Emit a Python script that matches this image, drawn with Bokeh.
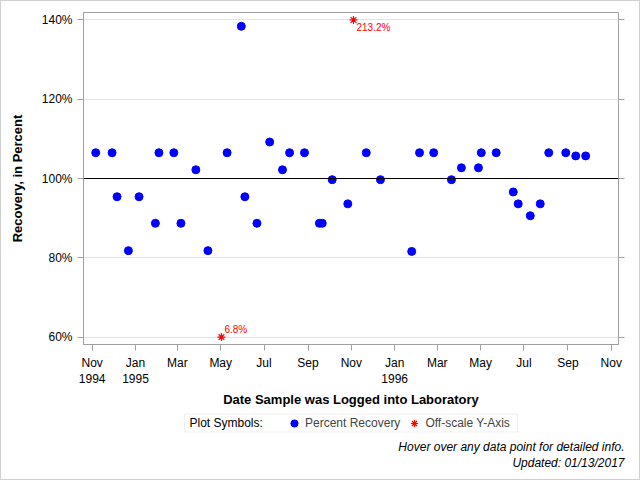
import numpy as np
import pandas as pd
from bokeh.plotting import figure
from bokeh.layouts import column, row
from bokeh.core.properties import value
from bokeh.models import (Range1d, ColumnDataSource, Span, LinearAxis, FixedTicker,
                          PrintfTickFormatter, CustomJSTickFormatter, Legend, LegendItem,
                          Label, LabelSet, BoxAnnotation)
from bokeh.embed import file_html
from bokeh.resources import INLINE

# ---------------- data ----------------
sample_dates = [
    "1994-11-06", "1994-11-29", "1994-12-06", "1994-12-22", "1995-01-06",
    "1995-01-29", "1995-02-03", "1995-02-24", "1995-03-06", "1995-03-27",
    "1995-04-13", "1995-05-10", "1995-05-30", "1995-06-04", "1995-06-21",
    "1995-07-09", "1995-07-27", "1995-08-06", "1995-08-27", "1995-09-17",
    "1995-09-21", "1995-10-05", "1995-10-27", "1995-11-22", "1995-12-12",
    "1996-01-25", "1996-02-05", "1996-02-25", "1996-03-21", "1996-04-04",
    "1996-04-28", "1996-05-02", "1996-05-23", "1996-06-16", "1996-06-23",
    "1996-07-10", "1996-07-24", "1996-08-05", "1996-08-29", "1996-09-12",
    "1996-09-26",
]
recovery_pct = [
    106.5, 106.5, 95.4, 81.8, 95.4,
    88.7, 106.5, 106.5, 88.7, 102.2,
    81.8, 106.5, 138.4, 95.4, 88.7,
    109.2, 102.2, 106.5, 106.5, 88.7,
    88.7, 99.7, 93.6, 106.5, 99.7,
    81.6, 106.5, 106.5, 99.7, 102.7,
    102.7, 106.5, 106.5, 96.6, 93.6,
    90.6, 93.6, 106.5, 106.5, 105.7,
    105.7,
]
offscale_dates = ["1995-05-02", "1995-11-04"]
offscale_pct = [6.8, 213.2]

x_tick_dates = ["1994-11-01", "1995-01-01", "1995-03-01", "1995-05-01", "1995-07-01",
                "1995-09-01", "1995-11-01", "1996-01-01", "1996-03-01", "1996-05-01",
                "1996-07-01", "1996-09-01", "1996-11-01"]
x_tick_labels = ["Nov\n1994", "Jan\n1995", "Mar", "May", "Jul", "Sep", "Nov",
                 "Jan\n1996", "Mar", "May", "Jul", "Sep", "Nov"]
y_ticks = [60, 80, 100, 120, 140]
y_display_min, y_display_max = 60, 140
reference_pct = 100
legend_title = "Plot Symbols:"
series_names = ["Percent Recovery", "Off-scale Y-Axis"]
footnotes = ["Hover over any data point for detailed info.", "Updated: 01/13/2017"]

# ---------------- styling ----------------
FONT = "Liberation Sans"
GRAY = "#a0a0a0"

src = ColumnDataSource(dict(date=pd.to_datetime(sample_dates), pct=recovery_pct))
off_plot = np.clip(np.array(offscale_pct), y_display_min, y_display_max)
off_src = ColumnDataSource(dict(
    date=pd.to_datetime(offscale_dates),
    y=off_plot,
    txt=[f"{v}%" for v in offscale_pct],
    dy=[-8 if v >= y_display_max else 8 for v in offscale_pct],
))

tick_ms = [float(t) for t in
           (pd.to_datetime(x_tick_dates) - pd.Timestamp("1970-01-01")) // pd.Timedelta(milliseconds=1)]

p = figure(width=640, height=410, output_backend="svg", toolbar_location=None,
           x_axis_type="datetime",
           x_range=Range1d(pd.Timestamp("1994-10-19 18:00"), pd.Timestamp("1996-11-11 06:00")),
           y_range=Range1d(58.116, 141.886),
           min_border_left=83, min_border_right=22, min_border_top=12, min_border_bottom=65)
p.outline_line_color = GRAY
p.background_fill_color = None
p.border_fill_color = None

p.xgrid.visible = False
p.ygrid.ticker = FixedTicker(ticks=y_ticks)
p.ygrid.grid_line_color = "#e2e2e2"

# x axis
xa = p.xaxis[0]
xa.ticker = FixedTicker(ticks=tick_ms)
xa.formatter = CustomJSTickFormatter(args=dict(tick_vals=tick_ms, tick_labels=x_tick_labels),
                                     code="const i = tick_vals.indexOf(tick); return i >= 0 ? tick_labels[i] : '';")
xa.axis_label = "Date Sample was Logged into Laboratory"
# y axis
ya = p.yaxis[0]
ya.ticker = FixedTicker(ticks=y_ticks)
ya.formatter = PrintfTickFormatter(format="%d%%")
ya.axis_label = "Recovery, in Percent"

for ax in (xa, ya):
    ax.axis_line_color = GRAY
    ax.major_tick_line_color = GRAY
    ax.major_tick_out = 6
    ax.major_tick_in = 0
    ax.minor_tick_line_color = None
    ax.major_label_text_font = FONT
    ax.major_label_text_font_size = "12px"
    ax.major_label_text_color = "black"
    ax.major_label_standoff = 5
    ax.axis_label_text_font = FONT
    ax.axis_label_text_font_size = "13px"
    ax.axis_label_text_font_style = "bold"
    ax.axis_label_text_color = "black"
xa.axis_label_standoff = 3
ya.axis_label_standoff = 14

ra = LinearAxis(ticker=FixedTicker(ticks=y_ticks),
                formatter=CustomJSTickFormatter(code="return '';"))
ra.axis_line_color = None
ra.major_tick_line_color = GRAY
ra.major_tick_out = 6
ra.major_tick_in = 0
ra.minor_tick_line_color = None
p.add_layout(ra, "right")

p.add_layout(Span(location=reference_pct, dimension="width", line_color="black", line_width=1))

r_pts = p.scatter(x="date", y="pct", source=src, size=8, fill_color="#0000ff", line_color="#0000ff")
r_off = p.scatter(x="date", y="y", source=off_src, marker="asterisk", size=8,
                  line_color="#ff0000", line_width=1.2)
p.add_layout(LabelSet(x="date", y="y", text="txt", source=off_src, x_offset=3, y_offset="dy",
                      text_font=value(FONT), text_font_size="10px", text_color="#ff0000",
                      text_baseline="middle", text_align="left"))

# ---------------- legend + footnotes strip ----------------
q = figure(width=640, height=70, output_backend="svg", toolbar_location=None,
           x_range=Range1d(0, 1), y_range=Range1d(0, 1),
           x_axis_location=None, y_axis_location=None,
           min_border_left=0, min_border_right=0, min_border_top=0, min_border_bottom=0)
q.grid.visible = False
q.outline_line_color = None
q.background_fill_color = None
q.border_fill_color = None
# legend proxies (a single NaN point each: nothing is drawn in the strip itself)
proxy = ColumnDataSource(dict(x=[np.nan], y=[np.nan]))
l_pts = q.scatter(x="x", y="y", source=proxy, size=8, fill_color="#0000ff", line_color="#0000ff")
l_off = q.scatter(x="x", y="y", source=proxy, marker="asterisk", size=8,
                  line_color="#ff0000", line_width=1.2)

q.add_layout(BoxAnnotation(left=184, right=517, bottom=48.5, top=66.5,
                           left_units="screen", right_units="screen",
                           bottom_units="screen", top_units="screen",
                           fill_color="white", fill_alpha=1,
                           line_color="#c8c8c8", line_width=1, level="underlay"))
q.add_layout(Label(x=189, y=57.5, x_units="screen", y_units="screen", text=legend_title,
                   text_align="left", text_baseline="middle", text_font=FONT,
                   text_font_size="12px", text_color="black"))

legend = Legend(items=[LegendItem(label=series_names[0], renderers=[l_pts]),
                       LegendItem(label=series_names[1], renderers=[l_off])],
                orientation="horizontal", location=(285, 48.5))
legend.label_text_font = FONT
legend.label_text_font_size = "12px"
legend.glyph_width = 18
legend.glyph_height = 18
legend.label_height = 18
legend.label_standoff = 2
legend.spacing = 5
legend.padding = 0
legend.margin = 0
legend.border_line_color = None
legend.background_fill_alpha = 0
q.add_layout(legend)

for txt, yy in zip(footnotes, (33.3, 17.7)):
    q.add_layout(Label(x=624, y=yy, x_units="screen", y_units="screen", text=txt,
                       text_align="right", text_baseline="middle", text_font=FONT,
                       text_font_size="12px", text_font_style="italic", text_color="black"))

layout = column(p, row(q), spacing=0)
layout.styles = {"box-shadow": "inset 0 0 0 1px #d0d0d0", "background": "white"}
open("out.html", "w").write(file_html(layout, INLINE))
